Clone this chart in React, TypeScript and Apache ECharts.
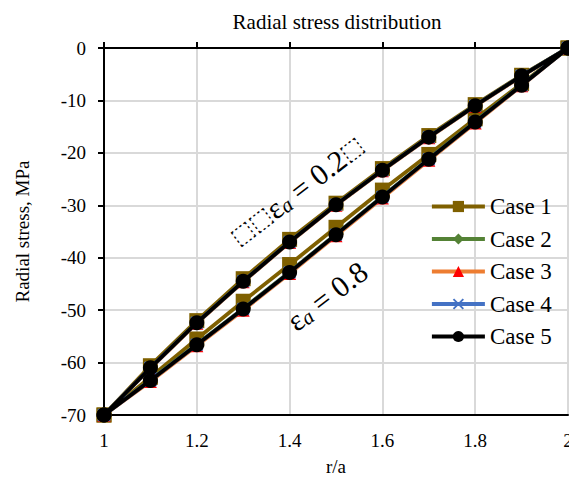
import React, { useEffect, useRef } from "react";
import * as echarts from "echarts";

const xValues = [1, 1.1, 1.2, 1.3, 1.4, 1.5, 1.6, 1.7, 1.8, 1.9, 2];
const caseNames = ["Case 1", "Case 2", "Case 3", "Case 4", "Case 5"];

// εa = 0.2 curves
const case1Low = [-70, -60.6, -52.0, -44.0, -36.5, -29.6, -23.0, -16.7, -10.8, -5.2, 0];
const case2Low = [-70, -61.0, -52.4, -44.5, -37.0, -29.9, -23.3, -17.0, -11.0, -5.3, 0];
const case3Low = [-70, -61.1, -52.5, -44.6, -37.1, -30.0, -23.4, -17.1, -11.1, -5.4, 0];
const case4Low = [-70, -61.0, -52.4, -44.5, -37.0, -29.9, -23.3, -17.0, -11.0, -5.3, 0];
const case5Low = [-70, -61.0, -52.4, -44.5, -37.0, -29.9, -23.3, -17.0, -11.0, -5.3, 0];

// εa = 0.8 curves
const case1High = [-70, -62.8, -55.5, -48.3, -41.3, -34.2, -27.1, -20.3, -13.5, -6.8, 0];
const case2High = [-70, -63.3, -56.5, -49.7, -42.7, -35.5, -28.3, -21.1, -14.0, -7.0, 0];
const case3High = [-70, -63.6, -56.8, -50.0, -43.0, -35.8, -28.6, -21.4, -14.3, -7.2, 0];
const case4High = [-70, -63.4, -56.6, -49.8, -42.8, -35.6, -28.4, -21.2, -14.1, -7.1, 0];
const case5High = [-70, -63.4, -56.6, -49.8, -42.8, -35.6, -28.4, -21.2, -14.1, -7.1, 0];

const lowSets = [case1Low, case2Low, case3Low, case4Low, case5Low];
const highSets = [case1High, case2High, case3High, case4High, case5High];

const lineColors = ["#7F6000", "#548235", "#ED7D31", "#4472C4", "#000000"];
const markerColors = ["#7F6000", "#548235", "#FF0000", "#4472C4", "#000000"];
const symbols = [
  "rect",
  "diamond",
  "triangle",
  "path://M0,1.2 L1.2,0 L5,3.8 L8.8,0 L10,1.2 L6.2,5 L10,8.8 L8.8,10 L5,6.2 L1.2,10 L0,8.8 L3.8,5 Z",
  "circle",
];
const symbolSizes = [15, 11, 13, 13, 15];

const FONT = "'Times New Roman', 'Liberation Serif', serif";

export default function App() {
  const ref = useRef<HTMLDivElement>(null);
  useEffect(() => {
    if (!ref.current) return;
    const chart = echarts.init(ref.current, null, { renderer: "svg" });
    const series: any[] = caseNames.map((name, i) => {
      const data: any[] = [];
      xValues.forEach((x, k) => data.push([x, lowSets[i][k]]));
      data.push([null, null]);
      xValues.forEach((x, k) => data.push([x, highSets[i][k]]));
      return {
        name,
        type: "line",
        data,
        connectNulls: false,
        symbol: symbols[i],
        symbolSize: symbolSizes[i],
        showAllSymbol: true,
        lineStyle: { color: lineColors[i], width: 3.8 },
        itemStyle: { color: markerColors[i] },
        z: 2 + i,
      };
    });
    chart.setOption({
      animation: false,
      backgroundColor: "#ffffff",
      textStyle: { fontFamily: FONT },
      title: {
        text: "Radial stress distribution",
        left: 332,
        top: 6,
        textAlign: "center",
        textStyle: { fontFamily: FONT, fontSize: 21, fontWeight: "normal", color: "#000" },
      },
      grid: { left: 104, right: 1, top: 48, bottom: 64, outerBoundsMode: "none", containLabel: false },
      legend: {
        orient: "vertical",
        left: 425,
        top: 190,
        itemWidth: 53,
        itemHeight: 14,
        itemGap: 9.5,
        data: caseNames,
        lineStyle: { width: 3.8 },
        textStyle: { fontFamily: FONT, fontSize: 23, color: "#000" },
      },
      xAxis: [
        {
          type: "value",
          min: 1,
          max: 2,
          interval: 0.2,
          position: "bottom",
          name: "r/a",
          nameLocation: "middle",
          nameGap: 42,
          nameTextStyle: { fontFamily: FONT, fontSize: 19, color: "#000" },
          axisLine: { show: true, onZero: false, lineStyle: { color: "#000", width: 2 } },
          axisTick: { show: false },
          axisLabel: { fontFamily: FONT, fontSize: 19, color: "#000", margin: 16, formatter: (v: number) => String(Math.round(v * 10) / 10) },
          splitLine: { show: true, lineStyle: { color: "#d9d9d9", width: 2 } },
        },
        {
          type: "value",
          min: 1,
          max: 2,
          interval: 0.2,
          position: "top",
          axisLine: { show: true, onZero: false, lineStyle: { color: "#000", width: 2 } },
          axisTick: { show: true, length: 6, lineStyle: { color: "#000", width: 2 } },
          axisLabel: { show: false },
          splitLine: { show: false },
        },
      ],
      yAxis: {
        type: "value",
        min: -70,
        max: 0,
        interval: 10,
        name: "Radial stress, MPa",
        nameLocation: "middle",
        nameGap: 72,
        nameTextStyle: { fontFamily: FONT, fontSize: 19, color: "#000" },
        axisLine: { show: true, onZero: false, lineStyle: { color: "#000", width: 2 } },
        axisTick: { show: true, length: 6, lineStyle: { color: "#000", width: 2 } },
        axisLabel: { fontFamily: FONT, fontSize: 19, color: "#000", margin: 18 },
        splitLine: { show: true, lineStyle: { color: "#d9d9d9", width: 2 } },
      },
      graphic: [
        {
          type: "text",
          x: 297,
          y: 191,
          rotation: (37.5 * Math.PI) / 180,
          z: 100,
          style: {
            text: "{b|⬚⬚}{m|ε}{s|a}{m| = 0.2}{b|⬚}",
            align: "center",
            verticalAlign: "middle",
            fill: "#000",
            rich: {
              b: { fontFamily: "DejaVu Sans", fontSize: 24, fill: "#000" },
              m: { fontFamily: FONT, fontSize: 30, fill: "#000" },
              s: { fontFamily: FONT, fontSize: 21, fontStyle: "italic", fill: "#000", padding: [10, 0, 0, 0] },
            },
          },
        },
        {
          type: "text",
          x: 327,
          y: 296,
          rotation: (37.5 * Math.PI) / 180,
          z: 100,
          style: {
            text: "{m|ε}{s|a}{m| = 0.8}",
            align: "center",
            verticalAlign: "middle",
            fill: "#000",
            rich: {
              m: { fontFamily: FONT, fontSize: 30, fill: "#000" },
              s: { fontFamily: FONT, fontSize: 21, fontStyle: "italic", fill: "#000", padding: [10, 0, 0, 0] },
            },
          },
        },
      ],
      series,
    });
    return () => chart.dispose();
  }, []);
  return (
    <div
      ref={ref}
      style={{ position: "fixed", left: 0, top: 0, width: 569, height: 479, background: "#fff" }}
    />
  );
}
